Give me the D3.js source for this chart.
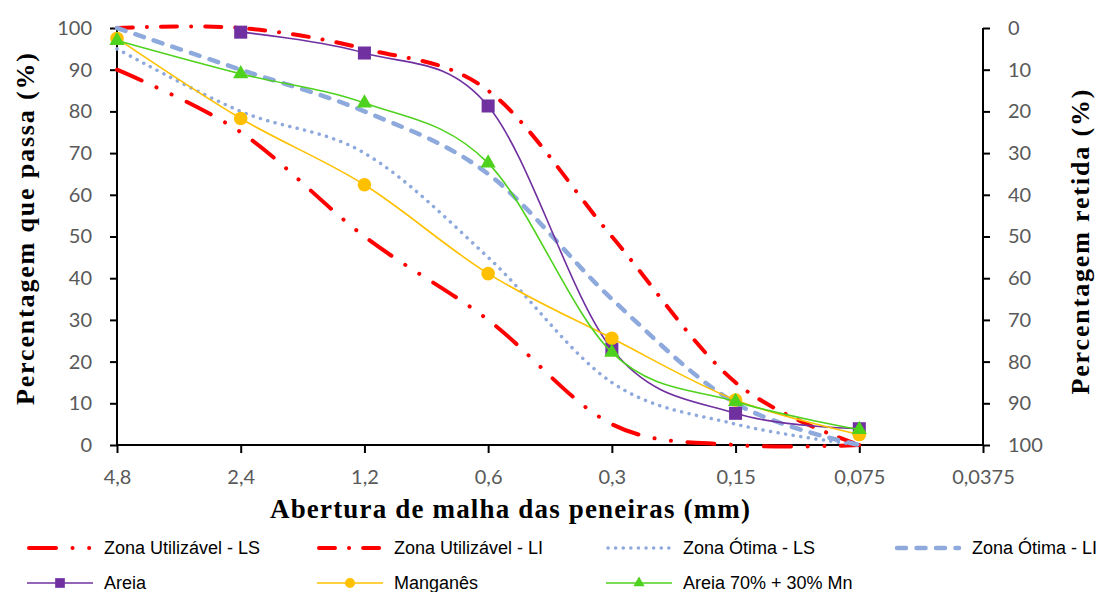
<!DOCTYPE html>
<html><head><meta charset="utf-8">
<script src="https://cdn.jsdelivr.net/npm/d3@7"></script>
<style>
html,body{margin:0;padding:0;background:#fff;}
svg{display:block;}
</style></head>
<body>
<svg id="chart" width="1102" height="592"></svg>
<script>
const categories = ["4,8","2,4","1,2","0,6","0,3","0,15","0,075","0,0375"];
const zonaUtilLS = [90,75,50,30,5,0,0];
const zonaUtilLI = [100,100,95,85,50,15,0];
const zonaOtimaLS = [95,80,70,45,15,5,0];
const zonaOtimaLI = [100,90,80,65,35,10,0];
const areia = [null,99,94,81.3,23,7.6,3.9];
const manganes = [97.5,78.3,62.4,41.1,25.6,10.8,2.5];
const mistura = [97,89,82,67.6,22.2,10.4,3.7];
const leftTicks = [0,10,20,30,40,50,60,70,80,90,100];
const rightTicks = [0,10,20,30,40,50,60,70,80,90,100];
const seriesNames = ["Zona Utilizável - LS","Zona Utilizável - LI","Zona Ótima - LS","Zona Ótima - LI","Areia","Manganês","Areia 70% + 30% Mn"];

const svg = d3.select("#chart");
const L = 117, R = 983, T = 28, B = 445;
const x = d3.scalePoint().domain(categories).range([L, R]).padding(0);
const y = d3.scaleLinear().domain([0,100]).range([B, T]);
const yr = d3.scaleLinear().domain([0,100]).range([T, B]);

const tickFont = "Lato, 'Open Sans', sans-serif";

// axes
const gx = svg.append("g").attr("transform", `translate(0,${B})`)
  .call(d3.axisBottom(x).tickSize(8).tickPadding(17));
const gl = svg.append("g").attr("transform", `translate(${L},0)`)
  .call(d3.axisLeft(y).tickValues(leftTicks).tickSize(7).tickPadding(18));
const gr = svg.append("g").attr("transform", `translate(${R},0)`)
  .call(d3.axisRight(yr).tickValues(rightTicks).tickSize(7).tickPadding(18));
[gx, gl, gr].forEach(g => {
  g.select(".domain").attr("stroke", "#000").attr("stroke-width", 2);
  g.selectAll(".tick line").attr("stroke", "#000").attr("stroke-width", 2);
  g.selectAll(".tick text").attr("fill", "#595959").style("font-family", tickFont).style("font-size", "20px");
});
gx.select(".domain").attr("d", `M${L},0H${R}`);
gl.select(".domain").attr("d", `M0,${T}V${B}`);
gr.select(".domain").attr("d", `M0,${T}V${B}`);

// series
const curve = d3.curveCardinal.tension(0);
function line(vals) {
  return d3.line()
    .defined(d => d.v !== null)
    .x(d => x(categories[d.i]))
    .y(d => y(d.v))
    .curve(curve)(vals.map((v, i) => ({v, i})));
}
const zoneStyles = [
  {data: zonaUtilLS, color: "#FF0000", w: 4, dash: "27,16.5,0.1,16.5,0.1,16.5", cap: "round"},
  {data: zonaUtilLI, color: "#FF0000", w: 4, dash: "16,14,0.1,14", cap: "round"},
  {data: zonaOtimaLS, color: "#8EA9DB", w: 3.5, dash: "0.1,7.5", cap: "round"},
  {data: zonaOtimaLI, color: "#8EA9DB", w: 4.5, dash: "9,10.5", cap: "round"}
];
zoneStyles.forEach(s => {
  svg.append("path").attr("d", line(s.data)).attr("fill", "none")
    .attr("stroke", s.color).attr("stroke-width", s.w)
    .attr("stroke-dasharray", s.dash).attr("stroke-linecap", s.cap);
});

const dataSeries = [
  {data: areia, color: "#7030A0", marker: d3.symbolSquare, size: 170},
  {data: manganes, color: "#FFC000", marker: d3.symbolCircle, size: 145},
  {data: mistura, color: "#4FD21E", marker: d3.symbolTriangle, size: 100}
];
dataSeries.forEach(s => {
  svg.append("path").attr("d", line(s.data)).attr("fill", "none")
    .attr("stroke", s.color).attr("stroke-width", 1.6);
  svg.append("g").selectAll("path").data(s.data.map((v, i) => ({v, i})).filter(d => d.v !== null))
    .join("path")
    .attr("transform", d => `translate(${x(categories[d.i])},${y(d.v)})`)
    .attr("d", d3.symbol().type(s.marker).size(s.size))
    .attr("fill", s.color);
});

// axis titles
const titleFont = "'Liberation Serif', 'Times New Roman', serif";
svg.append("text").attr("transform", "translate(34,229) rotate(-90)")
  .attr("text-anchor", "middle").attr("font-family", titleFont).attr("font-weight", "bold")
  .attr("font-size", 26).attr("textLength", 352).attr("lengthAdjust", "spacing")
  .text("Percentagem que passa (%)");
svg.append("text").attr("transform", "translate(1089,242) rotate(-90)")
  .attr("text-anchor", "middle").attr("font-family", titleFont).attr("font-weight", "bold")
  .attr("font-size", 26).attr("textLength", 305).attr("lengthAdjust", "spacing")
  .text("Percentagem retida (%)");
svg.append("text").attr("x", 510).attr("y", 518)
  .attr("text-anchor", "middle").attr("font-family", titleFont).attr("font-weight", "bold")
  .attr("font-size", 27).attr("textLength", 480).attr("lengthAdjust", "spacing")
  .text("Abertura de malha das peneiras (mm)");

// legend
const legendItems = [
  {name: seriesNames[0], s: zoneStyles[0], col: 27, row: 548},
  {name: seriesNames[1], s: zoneStyles[1], col: 317, row: 548},
  {name: seriesNames[2], s: zoneStyles[2], col: 606, row: 548},
  {name: seriesNames[3], s: zoneStyles[3], col: 895, row: 548},
  {name: seriesNames[4], d: dataSeries[0], col: 27, row: 583},
  {name: seriesNames[5], d: dataSeries[1], col: 317, row: 583},
  {name: seriesNames[6], d: dataSeries[2], col: 606, row: 583}
];
legendItems.forEach(it => {
  const g = svg.append("g").attr("transform", `translate(${it.col},${it.row})`);
  if (it.s) {
    g.append("line").attr("x1", 2).attr("x2", 64).attr("y1", 0).attr("y2", 0)
      .attr("stroke", it.s.color).attr("stroke-width", it.s.w)
      .attr("stroke-dasharray", it.s.dash).attr("stroke-linecap", it.s.cap);
  } else {
    g.append("line").attr("x1", 0).attr("x2", 66).attr("y1", 0).attr("y2", 0)
      .attr("stroke", it.d.color).attr("stroke-width", 1.6);
    g.append("path").attr("transform", "translate(33,0)")
      .attr("d", d3.symbol().type(it.d.marker).size(it.d.size * 0.55)).attr("fill", it.d.color);
  }
  g.append("text").attr("x", 77).attr("y", 0).attr("dy", "0.35em")
    .attr("font-family", "'Liberation Sans', Arial, sans-serif").attr("font-size", 18)
    .attr("fill", "#000").text(it.name);
});
</script>
</body></html>
